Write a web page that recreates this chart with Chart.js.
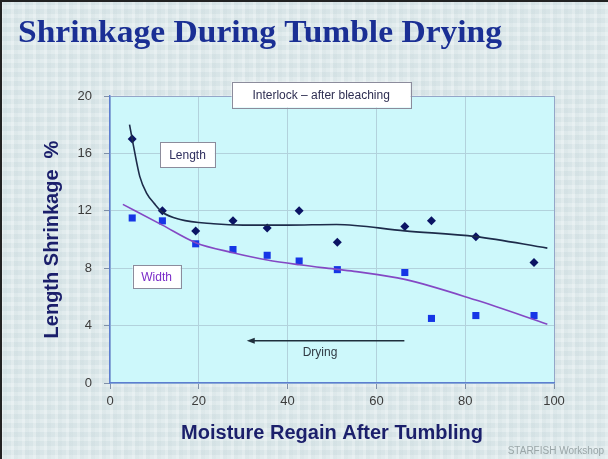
<!DOCTYPE html>
<html>
<head>
<meta charset="utf-8">
<script src="https://cdn.jsdelivr.net/npm/chart.js@4"></script>
<style>
  html, body { margin: 0; padding: 0; }
  body {
    width: 608px; height: 459px; overflow: hidden;
    background-color: #dce8ea;
    background-image:
      repeating-linear-gradient(90deg, rgba(255,255,255,0.22) 0 3px, rgba(180,200,205,0.10) 3px 7px, rgba(255,255,255,0.0) 7px 11px),
      repeating-linear-gradient(0deg, rgba(255,255,255,0.18) 0 4px, rgba(170,190,200,0.08) 4px 9px);
  }
  canvas { display: block; }
</style>
</head>
<body>
<canvas id="shrinkChart" width="608" height="459"></canvas>
<script>
// measured points (moisture regain % vs shrinkage %)
const regain = [5, 11.8, 19.3, 27.7, 35.4, 42.6, 51.2, 66.4, 72.4, 82.4, 95.5];
const lengthShrink = [17.0, 12.0, 10.6, 11.3, 10.8, 12.0, 9.8, 10.9, 11.3, 10.2, 8.4];
const widthShrink = [11.5, 11.3, 9.7, 9.3, 8.9, 8.5, 7.9, 7.7, 4.5, 4.7, 4.7];

// trend curves
const lengthFitX = [4.4, 5.3, 6.7, 8.3, 10, 11.8, 15.8, 23.3, 30, 40, 51, 66.4, 82.4, 98.5];
const lengthFitY = [18.0, 16.5, 14.4, 13.2, 12.5, 11.9, 11.4, 11.1, 11.0, 11.0, 11.05, 10.6, 10.2, 9.4];
const widthFitX = [2.9, 11.8, 19.3, 27.7, 35.4, 42.6, 51.2, 55.5, 66.4, 82.4, 98.5];
const widthFitY = [12.45, 11.0, 9.78, 9.08, 8.57, 8.24, 7.92, 7.76, 7.22, 5.78, 4.1];

const xTicks = [0, 20, 40, 60, 80, 100];
const yTicks = [0, 4, 8, 12, 16, 20];

function pts(xs, ys) {
    return xs.map((x, i) => ({ x: x, y: ys[i] }));
}

const sans = '"Liberation Sans", Arial, sans-serif';

// background, title, text boxes and arrow
const decor = {
    id: 'decor',
    beforeDraw(chart) {
        const { ctx, chartArea: a } = chart;
        ctx.save();
        ctx.fillStyle = '#cdf8fb';
        ctx.fillRect(a.left, a.top, a.right - a.left, a.bottom - a.top);
        ctx.restore();
    },
    afterDraw(chart) {
        const { ctx, scales: { x, y } } = chart;
        ctx.save();
        // frame
        ctx.fillStyle = '#222';
        ctx.fillRect(0, 0, chart.width, 2);
        ctx.fillRect(0, 0, 2, chart.height);

        // title, stretched a little to the original width
        const title = 'Shrinkage During Tumble Drying';
        ctx.font = 'bold 32px "Liberation Serif", "Times New Roman", serif';
        ctx.fillStyle = '#1a2f94';
        ctx.textBaseline = 'alphabetic';
        ctx.textAlign = 'left';
        const tw = ctx.measureText(title).width;
        ctx.save();
        ctx.translate(18, 42);
        ctx.scale(484 / tw, 1);
        ctx.fillText(title, 0, 0);
        ctx.restore();

        function box(text, x0, y0, x1, y1, color) {
            const l = x.getPixelForValue(x0), r = x.getPixelForValue(x1);
            const t = y.getPixelForValue(y0), b = y.getPixelForValue(y1);
            ctx.fillStyle = '#ffffff';
            ctx.fillRect(l, t, r - l, b - t);
            ctx.strokeStyle = '#8c8c9c';
            ctx.lineWidth = 1;
            ctx.strokeRect(Math.round(l) + 0.5, Math.round(t) + 0.5, Math.round(r - l), Math.round(b - t));
            ctx.fillStyle = color;
            ctx.font = '12px ' + sans;
            ctx.textAlign = 'center';
            ctx.textBaseline = 'middle';
            ctx.fillText(text, (l + r) / 2, (t + b) / 2 + 1);
        }
        box('Interlock \u2013 after bleaching', 27.4, 21.0, 67.7, 19.2, '#2e2e52');
        box('Length', 11.3, 16.8, 23.6, 15.05, '#2e2e5e');
        box('Width', 5.1, 8.22, 15.9, 6.6, '#7a2cc8');

        // drying arrow
        const ax0 = x.getPixelForValue(66.3), ax1 = x.getPixelForValue(30.8);
        const ay = y.getPixelForValue(2.95);
        ctx.strokeStyle = '#1f2f3c';
        ctx.fillStyle = '#1f2f3c';
        ctx.lineWidth = 1.5;
        ctx.beginPath();
        ctx.moveTo(ax0, ay);
        ctx.lineTo(ax1 + 6, ay);
        ctx.stroke();
        ctx.beginPath();
        ctx.moveTo(ax1, ay);
        ctx.lineTo(ax1 + 8, ay - 3);
        ctx.lineTo(ax1 + 8, ay + 3);
        ctx.closePath();
        ctx.fill();
        ctx.fillStyle = '#303a44';
        ctx.font = '12px ' + sans;
        ctx.textAlign = 'center';
        ctx.textBaseline = 'middle';
        ctx.fillText('Drying', x.getPixelForValue(47.3), y.getPixelForValue(2.1));

        // credit
        ctx.fillStyle = '#9aa6a8';
        ctx.font = '10px ' + sans;
        ctx.textAlign = 'right';
        ctx.textBaseline = 'alphabetic';
        ctx.fillText('STARFISH Workshop', 604, 454);
        ctx.restore();
    }
};

const edgeGrid = '#93a6c8';
const innerGrid = '#b2d2dc';

new Chart(document.getElementById('shrinkChart').getContext('2d'), {
    type: 'scatter',
    data: {
        datasets: [
            {
                label: 'Length fit',
                data: pts(lengthFitX, lengthFitY),
                showLine: true,
                pointRadius: 0,
                borderColor: '#1d2b4a',
                borderWidth: 1.6,
                cubicInterpolationMode: 'monotone',
                fill: false
            },
            {
                label: 'Width fit',
                data: pts(widthFitX, widthFitY),
                showLine: true,
                pointRadius: 0,
                borderColor: '#8448c4',
                borderWidth: 1.6,
                cubicInterpolationMode: 'monotone',
                fill: false
            },
            {
                label: 'Length',
                data: pts(regain, lengthShrink),
                pointStyle: 'rectRot',
                pointRadius: 4.5,
                backgroundColor: '#0b1464',
                borderColor: '#0b1464',
                borderWidth: 0
            },
            {
                label: 'Width',
                data: pts(regain, widthShrink),
                pointStyle: 'rect',
                pointRadius: 5,
                backgroundColor: '#1636e6',
                borderColor: '#1636e6',
                borderWidth: 0
            }
        ]
    },
    options: {
        responsive: false,
        animation: false,
        layout: { padding: { top: 96, right: 54, bottom: 0, left: 0 } },
        plugins: { legend: { display: false }, tooltip: { enabled: false } },
        scales: {
            x: {
                type: 'linear',
                min: 0,
                max: 100,
                afterBuildTicks: s => { s.ticks = xTicks.map(v => ({ value: v })); },
                afterFit: s => { s.height = 76; },
                ticks: { padding: 5, color: '#3c3c3c', font: { size: 13, family: sans } },
                grid: {
                    color: c => (c.tick && c.tick.value === 100 ? edgeGrid : innerGrid),
                    tickColor: '#8090a8',
                    tickLength: 6
                },
                border: { color: '#5c7ed0', width: 1.5 },
                title: {
                    display: true,
                    text: 'Moisture Regain After Tumbling',
                    color: '#1b1f6b',
                    font: { size: 20, weight: 'bold', family: sans },
                    padding: { top: 0, bottom: 14 }
                }
            },
            y: {
                min: 0,
                max: 20,
                afterBuildTicks: s => { s.ticks = yTicks.map(v => ({ value: v })); },
                afterFit: s => { s.width = 110; },
                ticks: { padding: 12, color: '#3c3c3c', font: { size: 13, family: sans } },
                grid: {
                    color: c => (c.tick && c.tick.value === 20 ? edgeGrid : innerGrid),
                    tickColor: '#8090a8',
                    tickLength: 6
                },
                border: { color: '#5c7ed0', width: 1.5 },
                title: {
                    display: true,
                    text: 'Length Shrinkage  %',
                    color: '#1b1f6b',
                    font: { size: 20, weight: 'bold', family: sans },
                    padding: { top: 40, bottom: 0 }
                }
            }
        }
    },
    plugins: [decor]
});
</script>
</body>
</html>
